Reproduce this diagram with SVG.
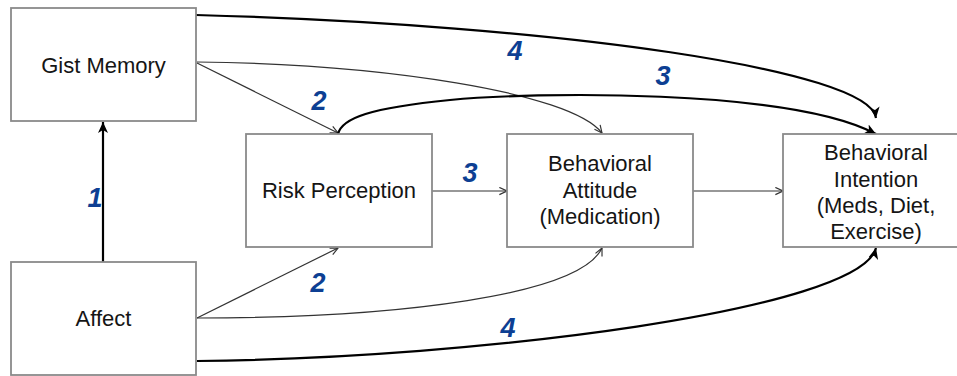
<svg xmlns="http://www.w3.org/2000/svg" width="957" height="376" viewBox="0 0 957 376">
  <style>
    .box { fill: #ffffff; stroke: #8a8a8a; stroke-width: 1.8; }
    .lbl { font-family: "Liberation Sans", Arial, Helvetica, sans-serif; font-size: 22px; fill: #151515; text-anchor: middle; }
    .num { font-family: "Liberation Sans", Arial, Helvetica, sans-serif; font-size: 27px; font-style: italic; font-weight: bold; fill: #0d3f93; text-anchor: middle; }
    .thin { fill: none; stroke: #333333; stroke-width: 1.2; marker-end: url(#open); }
    .thick { fill: none; stroke: #000000; stroke-width: 2.2; marker-end: url(#solid); }
  </style>
  <defs>
    <marker id="open" markerUnits="userSpaceOnUse" viewBox="0 0 10 10" refX="9.5" refY="5" markerWidth="9" markerHeight="9" orient="auto">
      <path d="M1,1 L9.5,5 L1,9" fill="none" stroke="#333333" stroke-width="1.3"/>
    </marker>
    <marker id="solid" markerUnits="userSpaceOnUse" viewBox="0 0 12 12" refX="11" refY="6" markerWidth="12" markerHeight="12" orient="auto">
      <path d="M0,1 L11,6 L0,11 L3,6 Z" fill="#000000"/>
    </marker>
  </defs>

  <rect width="957" height="376" fill="#ffffff"/>

  <!-- connectors -->
  <g id="connectors">
    <!-- Affect -> Gist Memory -->
    <path class="thick" d="M103,262 L103,122"/>
    <!-- Gist Memory -> Risk Perception -->
    <path class="thin" d="M197,63 L338,133"/>
    <!-- Gist Memory -> Behavioral Attitude -->
    <path class="thin" d="M197,62 C380,64 570,92 602,133"/>
    <!-- Gist Memory -> Behavioral Intention -->
    <path class="thick" d="M196,15 C560,25 870,70 876,118"/>
    <!-- Risk Perception -> Behavioral Intention -->
    <path class="thick" d="M338,134 C342,118 370,108 450,100 C530,92 790,88 876,134"/>
    <!-- Risk Perception -> Behavioral Attitude -->
    <path class="thin" d="M432,191 L507,191"/>
    <!-- Behavioral Attitude -> Behavioral Intention -->
    <path class="thin" d="M693,191 L783,191"/>
    <!-- Affect -> Risk Perception -->
    <path class="thin" d="M197,318 L338,248"/>
    <!-- Affect -> Behavioral Attitude -->
    <path class="thin" d="M197,318 C400,318 580,295 602,248"/>
    <!-- Affect -> Behavioral Intention -->
    <path class="thick" d="M197,361 C480,358 860,310 876,248"/>

    <!-- path numbers -->
    <text class="num" x="95" y="207">1</text>
    <text class="num" x="319" y="110">2</text>
    <text class="num" x="318" y="292">2</text>
    <text class="num" x="470" y="182">3</text>
    <text class="num" x="663" y="85">3</text>
    <text class="num" x="515" y="60">4</text>
    <text class="num" x="508" y="337">4</text>
  </g>

  <!-- nodes -->
  <g id="gist-memory">
    <rect class="box" x="11" y="8" width="185" height="113"/>
    <text class="lbl" x="103.5" y="72.5">Gist Memory</text>
  </g>
  <g id="affect">
    <rect class="box" x="11" y="262" width="185" height="113"/>
    <text class="lbl" x="103.5" y="326">Affect</text>
  </g>
  <g id="risk-perception">
    <rect class="box" x="246" y="134" width="186" height="113"/>
    <text class="lbl" x="339" y="198">Risk Perception</text>
  </g>
  <g id="behavioral-attitude">
    <rect class="box" x="507" y="134" width="186" height="113"/>
    <text class="lbl" x="600" y="171">Behavioral</text>
    <text class="lbl" x="600" y="197.5">Attitude</text>
    <text class="lbl" x="600" y="224">(Medication)</text>
  </g>
  <g id="behavioral-intention">
    <rect class="box" x="783" y="134" width="185" height="113"/>
    <text class="lbl" x="876" y="160">Behavioral</text>
    <text class="lbl" x="876" y="186.5">Intention</text>
    <text class="lbl" x="876" y="212.5">(Meds, Diet,</text>
    <text class="lbl" x="876" y="238.5">Exercise)</text>
  </g>
</svg>
